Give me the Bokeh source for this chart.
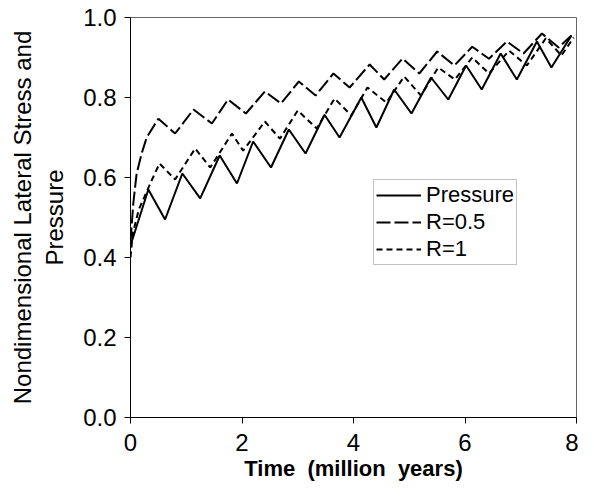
from bokeh.plotting import figure
from bokeh.models import Range1d, Legend, LegendItem, FixedTicker, NumeralTickFormatter
from bokeh.embed import file_html
from bokeh.resources import INLINE

# Data
pressure_x = [0, 0.32, 0.62, 0.93, 1.25, 1.6, 1.91, 2.2, 2.52, 2.84, 3.14, 3.48, 3.75, 4.14,
              4.41, 4.73, 5.04, 5.39, 5.70, 6.02, 6.30, 6.64, 6.93, 7.29, 7.55, 7.91]
pressure_y = [0.43, 0.57, 0.495, 0.61, 0.548, 0.655, 0.585, 0.69, 0.625, 0.72, 0.66, 0.757, 0.70, 0.80,
              0.725, 0.82, 0.76, 0.85, 0.795, 0.88, 0.82, 0.91, 0.845, 0.94, 0.875, 0.955]

r05_x = [0, 0.05, 0.11, 0.2, 0.29, 0.5, 0.80, 1.13, 1.46, 1.75, 2.07, 2.41, 2.7, 3.02, 3.32, 3.64,
         3.93, 4.29, 4.55, 4.88, 5.18, 5.5, 5.81, 6.13, 6.43, 6.75, 7.05, 7.38, 7.68, 7.91]
r05_y = [0.44, 0.535, 0.61, 0.66, 0.70, 0.747, 0.71, 0.77, 0.735, 0.795, 0.76, 0.815, 0.785, 0.84, 0.805, 0.86,
         0.825, 0.8825, 0.845, 0.8975, 0.86, 0.915, 0.88, 0.927, 0.897, 0.94, 0.91, 0.96, 0.925, 0.955]

r1_x = [0, 0.04, 0.15, 0.37, 0.52, 0.8, 1.16, 1.43, 1.82, 2.02, 2.41, 2.68, 3.0, 3.34, 3.66, 3.96,
        4.25, 4.59, 4.91, 5.21, 5.52, 5.82, 6.13, 6.43, 6.79, 7.11, 7.45, 7.73, 7.95]
r1_y = [0.40, 0.46, 0.52, 0.59, 0.635, 0.595, 0.6725, 0.625, 0.71, 0.667, 0.74, 0.697, 0.7675, 0.7225, 0.7975, 0.755,
        0.825, 0.7875, 0.8525, 0.805, 0.875, 0.845, 0.90, 0.86, 0.917, 0.88, 0.948, 0.905, 0.95]

x_ticks = [0, 2, 4, 6, 8]
y_ticks = [0.0, 0.2, 0.4, 0.6, 0.8, 1.0]

FONT = "Liberation Sans"

p = figure(width=578, height=485, output_backend="svg", toolbar_location=None,
           x_range=Range1d(0, 8), y_range=Range1d(0, 1),
           min_border_left=130, min_border_right=2, min_border_top=17, min_border_bottom=68)
p.background_fill_color = "white"
p.border_fill_color = "white"
p.outline_line_color = "#666666"
p.outline_line_width = 1
p.grid.visible = False

l1 = p.line(pressure_x, pressure_y, line_color="black", line_width=2)
l2 = p.line(r05_x, r05_y, line_color="black", line_width=2, line_dash="14 4")
l3 = p.line(r1_x, r1_y, line_color="black", line_width=2, line_dash="6 4")

for ax in (p.xaxis[0], p.yaxis[0]):
    ax.axis_line_color = "black"
    ax.axis_line_width = 1
    ax.major_tick_line_color = "black"
    ax.major_tick_out = 6
    ax.major_tick_in = 0
    ax.minor_tick_line_color = None
    ax.major_label_text_font = FONT
    ax.major_label_text_font_size = "24px"
    ax.major_label_text_color = "black"
    ax.axis_label_text_font = FONT
    ax.axis_label_text_color = "black"

p.xaxis[0].ticker = FixedTicker(ticks=x_ticks)
p.yaxis[0].ticker = FixedTicker(ticks=y_ticks)
p.yaxis[0].formatter = NumeralTickFormatter(format="0.0")
p.xaxis[0].major_label_standoff = 10
p.yaxis[0].major_label_standoff = 8

p.xaxis[0].axis_label = "Time\u00a0 (million\u00a0 years)"
p.xaxis[0].axis_label_text_font_style = "bold"
p.xaxis[0].axis_label_text_font_size = "22px"
p.xaxis[0].axis_label_standoff = 2

p.yaxis[0].axis_label = "Nondimensional Lateral Stress and\nPressure"
p.yaxis[0].axis_label_text_font_style = "normal"
p.yaxis[0].axis_label_text_font_size = "24px"
p.yaxis[0].axis_label_standoff = 12

legend = Legend(items=[LegendItem(label="Pressure", renderers=[l1]),
                       LegendItem(label="R=0.5", renderers=[l2]),
                       LegendItem(label="R=1", renderers=[l3])],
                location=(243, 152))
legend.label_text_font = FONT
legend.label_text_font_size = "22px"
legend.label_text_color = "black"
legend.glyph_width = 45
legend.glyph_height = 24
legend.label_height = 24
legend.label_standoff = 5
legend.padding = 2
legend.spacing = 1
legend.margin = 0
legend.border_line_color = "#888888"
legend.border_line_width = 1
legend.background_fill_alpha = 1.0
p.add_layout(legend, "center")

open("out.html", "w").write(file_html(p, INLINE))
